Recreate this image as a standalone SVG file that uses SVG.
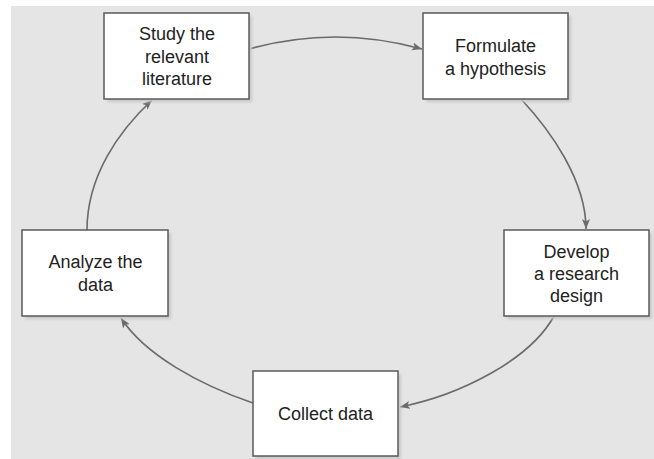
<svg xmlns="http://www.w3.org/2000/svg" width="654" height="459" viewBox="0 0 654 459">
  <defs>
    <style>
      .box { fill: #ffffff; stroke: #5a5a5a; stroke-width: 1.5; }
      .shadow { fill: #c8c8c8; filter: url(#soft); }
      .label { font-family: "Liberation Sans", Arial, sans-serif; font-size: 18px; fill: #222222; text-anchor: middle; }
      .link { fill: none; stroke: #6a6a6a; stroke-width: 1.6; marker-end: url(#head); }
    </style>
    <filter id="soft" x="-10%" y="-10%" width="120%" height="120%">
      <feGaussianBlur stdDeviation="1.5"/>
    </filter>
    <marker id="head" markerUnits="userSpaceOnUse" markerWidth="12" markerHeight="10" refX="10" refY="4" orient="auto">
      <path d="M0,0 L10,4 L0,8 L2.5,4 Z" fill="#6a6a6a"/>
    </marker>
  </defs>

  <!-- panel background -->
  <rect x="11" y="6" width="643" height="453" fill="#e5e5e5"/>

  <!-- cycle connectors -->
  <g id="connectors">
    <path class="link" d="M249,49 Q335,25 422,49"/>
    <path class="link" d="M521,99 C550,130 586,180 586,229"/>
    <path class="link" d="M554,316 C530,360 460,395 400,407"/>
    <path class="link" d="M253,403 C200,385 145,355 121,318"/>
    <path class="link" d="M87,230 C87,175 120,130 152,100"/>
  </g>

  <g id="study">
    <rect class="shadow" x="107" y="16" width="145" height="86"/>
    <rect class="box" x="104" y="13" width="145" height="86"/>
    <text class="label" x="177" y="40">Study the</text>
    <text class="label" x="177" y="62.5">relevant</text>
    <text class="label" x="177" y="85">literature</text>
  </g>

  <g id="formulate">
    <rect class="shadow" x="426" y="16" width="145" height="86"/>
    <rect class="box" x="423" y="13" width="145" height="86"/>
    <text class="label" x="495.5" y="52">Formulate</text>
    <text class="label" x="495.5" y="74.5">a hypothesis</text>
  </g>

  <g id="develop">
    <rect class="shadow" x="507" y="233" width="145" height="86"/>
    <rect class="box" x="504" y="230" width="145" height="86"/>
    <text class="label" x="576.5" y="257.5">Develop</text>
    <text class="label" x="576.5" y="280">a research</text>
    <text class="label" x="576.5" y="302">design</text>
  </g>

  <g id="collect">
    <rect class="shadow" x="256" y="374" width="145" height="85"/>
    <rect class="box" x="253" y="371" width="145" height="85"/>
    <text class="label" x="325.5" y="420">Collect data</text>
  </g>

  <g id="analyze">
    <rect class="shadow" x="25" y="233" width="146" height="86"/>
    <rect class="box" x="22" y="230" width="146" height="86"/>
    <text class="label" x="95.5" y="268">Analyze the</text>
    <text class="label" x="95.5" y="290.5">data</text>
  </g>
</svg>
